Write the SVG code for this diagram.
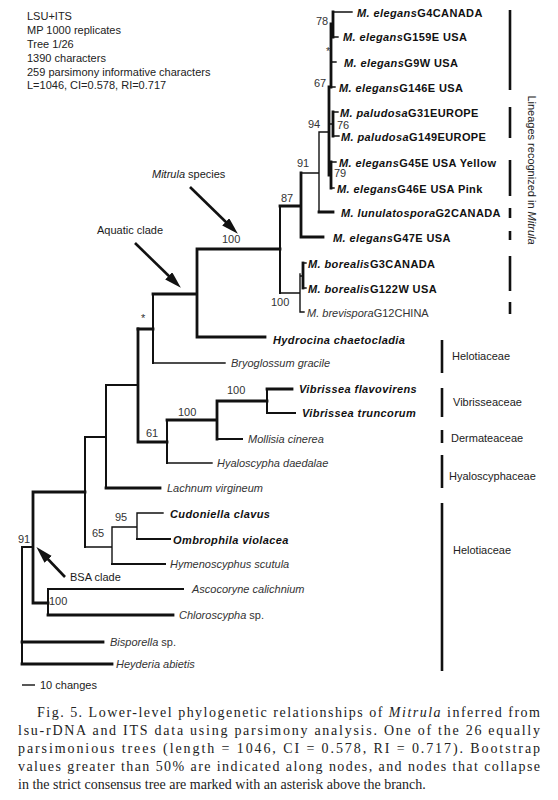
<svg xmlns="http://www.w3.org/2000/svg" width="558" height="800" viewBox="0 0 558 800">
<defs>
<style>
text{font-family:"Liberation Sans",Arial,sans-serif;font-size:11px;fill:#1a1a1a}
.hd{font-size:11px;fill:#222}
.bs{font-size:11px;fill:#333}
.tb{font-weight:bold;letter-spacing:0.4px;fill:#111}
.tr{fill:#333}
.i{font-style:italic}
.fam{font-size:11px;fill:#222}
.cap{font-family:"Liberation Serif","Times New Roman",serif;font-size:14px;fill:#222}
.ln{fill:none;stroke:#111;stroke-linecap:square}
.w1{stroke-width:1.4}
.w2{stroke-width:2}
.w3{stroke-width:2.8}
.bar{stroke:#111;stroke-width:2.6}
.arr{stroke:#111;stroke-width:2.6;fill:none}
</style>
<marker id="ah" markerUnits="userSpaceOnUse" markerWidth="18" markerHeight="12" refX="6" refY="5" orient="auto">
<path d="M0,0 L17,5 L0,10 z" fill="#111"/>
</marker>
</defs>
<rect width="558" height="800" fill="#fff"/>

<g id="header">
<text class="hd" x="27" y="20">LSU+ITS</text>
<text class="hd" x="27" y="34">MP 1000 replicates</text>
<text class="hd" x="27" y="48">Tree 1/26</text>
<text class="hd" x="27" y="61.5">1390 characters</text>
<text class="hd" x="27" y="75.5">259 parsimony informative characters</text>
<text class="hd" x="27" y="89">L=1046, CI=0.578, RI=0.717</text>
</g>

<g id="connectors">
<path class="ln w1" d="M333,12 H352 M333,37 H338 M331,62 H336 M331,87 H335 M333,112 H338 M333,136 H339 M331,162 H336 M331,188 H334"/>
<path class="ln w3" d="M333,12 V37 M331,24 V87 M329,87 V175 M333,112 V136 M331,162 V188"/>
<path class="ln w1" d="M331,24 H333 M329,124 H333 M329,175 H331"/>
<path class="ln w1" d="M319,132 H329 M319,132 V212 M301,173 H319"/>
<path class="ln w3" d="M319,212 H333 M301,173 V237 M301,237 H323 M280,206 H301"/>
<path class="ln w2" d="M280,206 V293"/>
<path class="ln w1" d="M280,293 H300 M300,274 V312 M300,276 H303 M303,263 H306 M303,288 H306 M300,312 H304"/>
<path class="ln w3" d="M303,263 V288"/>
<path class="ln w3" d="M197,249 H280 M197,249 V337 M197,337 H265 M153,294 H197 M138,329 H153"/>
<path class="ln w2" d="M153,294 V363"/>
<path class="ln w1" d="M153,363 H225"/>
<path class="ln w3" d="M138,329 V442 M138,442 H167 M167,420 H217 M217,401 H267 M267,389 H292 M217,401 V439"/>
<path class="ln w2" d="M167,420 V463 M217,439 H242 M267,389 V413 M267,413 H295"/>
<path class="ln w1" d="M167,463 H212"/>
<path class="ln w2" d="M106,385 H138 M106,385 V488 M85,437 H106 M85,437 V547"/>
<path class="ln w3" d="M106,488 H160"/>
<path class="ln w1" d="M85,547 H112 M112,527 V564 M112,527 H137 M137,513 V539 M137,513 H163"/>
<path class="ln w2" d="M112,564 H165 M137,539 H170"/>
<path class="ln w3" d="M33,492 H85 M33,492 V603 M33,603 H48"/>
<path class="ln w2" d="M48,589 V615 M48,589 H183"/>
<path class="ln w3" d="M48,615 H173"/>
<path class="ln w2" d="M22,547 H33 M22,547 V664"/>
<path class="ln w3" d="M22,642 H103 M22,664 H112"/>
</g>

<g id="bootstrap">
<text class="bs" x="316" y="25">78</text>
<text class="bs" x="326" y="55" font-size="9">*</text>
<text class="bs" x="314" y="87">67</text>
<text class="bs" x="308" y="128">94</text>
<text class="bs" x="337" y="129">76</text>
<text class="bs" x="297" y="167">91</text>
<text class="bs" x="334" y="177">79</text>
<text class="bs" x="281" y="202">87</text>
<text class="bs" x="222" y="243">100</text>
<text class="bs" x="271" y="306">100</text>
<text class="bs" x="141" y="322" font-size="9">*</text>
<text class="bs" x="227" y="394">100</text>
<text class="bs" x="178" y="416">100</text>
<text class="bs" x="146" y="437">61</text>
<text class="bs" x="115" y="521">95</text>
<text class="bs" x="92" y="537">65</text>
<text class="bs" x="18" y="543">91</text>
<text class="bs" x="49" y="605">100</text>
</g>

<g id="t-g4"><text class="tb" x="357" y="17"><tspan class="i">M. elegans</tspan>G4CANADA</text></g>
<g id="t-g159e"><text class="tb" x="343" y="41"><tspan class="i">M. elegans</tspan>G159E USA</text></g>
<g id="t-g9w"><text class="tb" x="344" y="67"><tspan class="i">M. elegans</tspan>G9W USA</text></g>
<g id="t-g146e"><text class="tb" x="339" y="92"><tspan class="i">M. elegans</tspan>G146E USA</text></g>
<g id="t-g31"><text class="tb" x="340" y="117"><tspan class="i">M. paludosa</tspan>G31EUROPE</text></g>
<g id="t-g149"><text class="tb" x="341" y="141"><tspan class="i">M. paludosa</tspan>G149EUROPE</text></g>
<g id="t-g45e"><text class="tb" x="339" y="167"><tspan class="i">M. elegans</tspan>G45E USA Yellow</text></g>
<g id="t-g46e"><text class="tb" x="337" y="193"><tspan class="i">M. elegans</tspan>G46E USA Pink</text></g>
<g id="t-g2"><text class="tb" x="341" y="217"><tspan class="i">M. lunulatospora</tspan>G2CANADA</text></g>
<g id="t-g47e"><text class="tb" x="333" y="242"><tspan class="i">M. elegans</tspan>G47E USA</text></g>
<g id="t-g3"><text class="tb" x="308" y="268"><tspan class="i">M. borealis</tspan>G3CANADA</text></g>
<g id="t-g122w"><text class="tb" x="308" y="293"><tspan class="i">M. borealis</tspan>G122W USA</text></g>
<g id="t-g12"><text class="tr" x="307" y="317"><tspan class="i">M. brevispora</tspan>G12CHINA</text></g>
<g id="t-hydrocina"><text class="tb i" x="273" y="344">Hydrocina chaetocladia</text></g>
<g id="t-bryoglossum"><text class="tr i" x="231" y="367">Bryoglossum gracile</text></g>
<g id="t-vflav"><text class="tb i" x="299" y="393">Vibrissea flavovirens</text></g>
<g id="t-vtrunc"><text class="tb i" x="302" y="417">Vibrissea truncorum</text></g>
<g id="t-mollisia"><text class="tr i" x="248" y="443">Mollisia cinerea</text></g>
<g id="t-hyaloscypha"><text class="tr i" x="217" y="467">Hyaloscypha daedalae</text></g>
<g id="t-lachnum"><text class="tr i" x="167" y="492">Lachnum virgineum</text></g>
<g id="t-cudoniella"><text class="tb i" x="170" y="518">Cudoniella clavus</text></g>
<g id="t-ombrophila"><text class="tb i" x="173" y="544">Ombrophila violacea</text></g>
<g id="t-hymenoscyphus"><text class="tr i" x="170" y="568">Hymenoscyphus scutula</text></g>
<g id="t-ascocoryne"><text class="tr i" x="192" y="593">Ascocoryne calichnium</text></g>
<g id="t-chloroscypha"><text class="tr" x="179" y="619"><tspan class="i">Chloroscypha</tspan> sp.</text></g>
<g id="t-bisporella"><text class="tr" x="110" y="646"><tspan class="i">Bisporella</tspan> sp.</text></g>
<g id="t-heyderia"><text class="tr i" x="116" y="668">Heyderia abietis</text></g>

<g id="annotations">
<text x="152" y="178"><tspan class="i">Mitrula</tspan> species</text>
<line class="arr" x1="190" y1="187" x2="230" y2="226" marker-end="url(#ah)"/>
<text x="97" y="234">Aquatic clade</text>
<line class="arr" x1="135" y1="243" x2="173" y2="280" marker-end="url(#ah)"/>
<text x="70" y="581">BSA clade</text>
<line class="arr" x1="65" y1="577" x2="44" y2="555" marker-end="url(#ah)"/>
</g>

<g id="lineages">
<line class="bar" x1="510" y1="10" x2="510" y2="90"/>
<line class="bar" x1="510" y1="107" x2="510" y2="138"/>
<line class="bar" x1="510" y1="160" x2="510" y2="196"/>
<line class="bar" x1="510" y1="208" x2="510" y2="218"/>
<line class="bar" x1="510" y1="231" x2="510" y2="240"/>
<line class="bar" x1="510" y1="256" x2="510" y2="291"/>
<line class="bar" x1="510" y1="302" x2="510" y2="314"/>
<text class="fam" transform="translate(528,170) rotate(90)" text-anchor="middle">Lineages recognized in <tspan class="i">Mitrula</tspan></text>
</g>

<g id="families">
<line class="bar" x1="442" y1="340" x2="442" y2="373"/>
<text class="fam" x="452" y="360">Helotiaceae</text>
<line class="bar" x1="442" y1="388" x2="442" y2="417"/>
<text class="fam" x="453" y="406">Vibrisseaceae</text>
<line class="bar" x1="442" y1="430" x2="442" y2="443"/>
<text class="fam" x="451" y="442">Dermateaceae</text>
<line class="bar" x1="442" y1="455" x2="442" y2="488"/>
<text class="fam" x="449" y="480">Hyaloscyphaceae</text>
<line class="bar" x1="442" y1="503" x2="442" y2="671"/>
<text class="fam" x="453" y="554">Helotiaceae</text>
</g>

<g id="scale">
<line x1="22" y1="685" x2="35" y2="685" stroke="#111" stroke-width="1.4"/>
<text x="40" y="689">10 changes</text>
</g>

<g id="caption">
<text class="cap" x="37" y="717" textLength="503" lengthAdjust="spacing">Fig. 5.  Lower-level phylogenetic relationships of <tspan font-style="italic">Mitrula</tspan> inferred from</text>
<text class="cap" x="18" y="735" textLength="522" lengthAdjust="spacing">lsu-rDNA and ITS data using parsimony analysis. One of the 26 equally</text>
<text class="cap" x="18" y="753" textLength="522" lengthAdjust="spacing">parsimonious trees (length = 1046, CI = 0.578, RI = 0.717). Bootstrap</text>
<text class="cap" x="18" y="771" textLength="522" lengthAdjust="spacing">values greater than 50% are indicated along nodes, and nodes that collapse</text>
<text class="cap" x="18" y="789">in the strict consensus tree are marked with an asterisk above the branch.</text>
</g>
</svg>
